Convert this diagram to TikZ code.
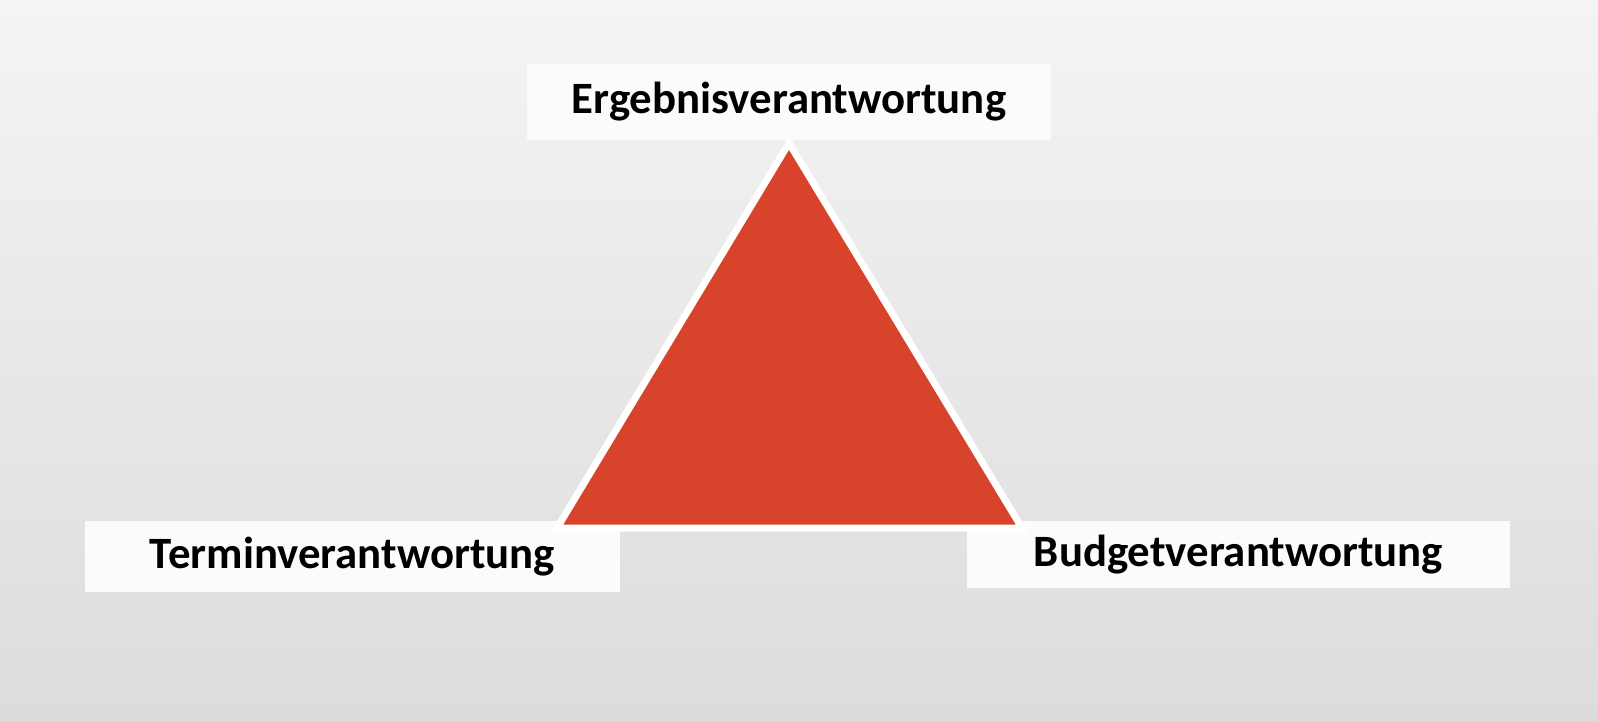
\documentclass[tikz,border=0pt]{standalone}
\usepackage{fontspec}
\setmainfont{Carlito}
\usepackage{tikz}

\definecolor{trired}{RGB}{215,68,43}
\definecolor{bglight}{RGB}{244,244,244}
\definecolor{bgdark}{RGB}{220,220,220}
\definecolor{boxfill}{RGB}{251,251,251}

\begin{document}
\begin{tikzpicture}[x=0.5pt,y=0.5pt,yscale=-1,xscale=1]
\useasboundingbox (0,0) rectangle (1598,721);
%Shape: Background
\shade [top color=bglight, bottom color=bgdark] (0,0) rectangle (1598,721);

% Text Node
\node (ergebnis) at (789,102) [fill=boxfill, inner sep=0pt, minimum width=262pt, minimum height=38pt] [font=\fontsize{22.4}{26}\selectfont\bfseries] {Ergebnisverantwortung};
% Text Node
\node (termin) at (352.5,556.5) [fill=boxfill, inner sep=0pt, minimum width=267.5pt, minimum height=35.5pt] [font=\fontsize{22.4}{26}\selectfont\bfseries] {Terminverantwortung};
% Text Node
\node (budget) at (1238.5,554.5) [fill=boxfill, inner sep=0pt, minimum width=271.5pt, minimum height=33.5pt] [font=\fontsize{22.4}{26}\selectfont\bfseries] {Budgetverantwortung};

%Shape: Triangle
\draw [white, line width=3.5pt, fill=trired] (789,143) -- (1022,528) -- (557,528) -- cycle ;
\end{tikzpicture}
\end{document}
